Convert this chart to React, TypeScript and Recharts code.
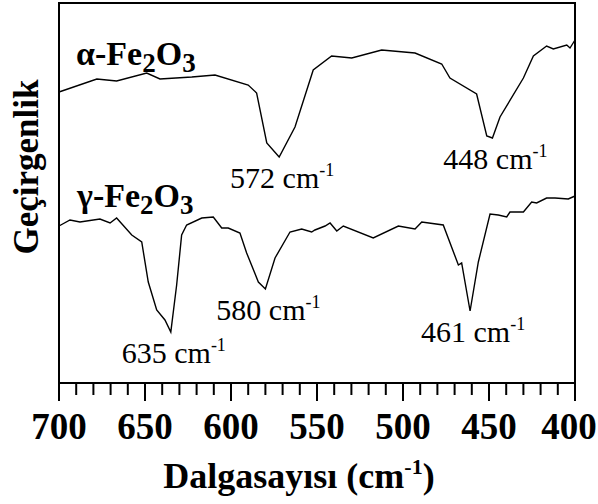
import React from 'react';
import { LineChart, Line, XAxis, YAxis, ReferenceArea, ReferenceDot } from 'recharts';

const FONT = 'Liberation Serif';
const INK = '#000';
const WIDTH = 598;
const HEIGHT = 504;

// wavenumber (cm-1) and transmittance (arbitrary units, curves offset)
const ALPHA_WN = [700, 678, 666.5, 649, 641.3, 622.8, 609.3, 590, 585.1, 579.2, 572, 562.8, 552.2, 541.5, 529.8, 512.4, 493, 477.5, 472.7, 457.2, 451.3, 448, 443.6, 430, 424.2, 416.5, 412.6, 404.8, 402.9, 400];
const ALPHA_T = [291, 304, 302, 310, 304, 306, 308, 298, 290, 240, 226, 256, 313, 327, 325, 333, 330, 319, 305, 289, 247, 245, 266, 305, 327, 337, 334, 338, 335, 343];

const GAMMA_WN = [700, 693.6, 687.8, 676.2, 670.3, 666.5, 657.7, 651.9, 648.1, 643.2, 638.4, 635, 631.6, 628.7, 625.8, 617, 610.3, 605.4, 601.6, 594.8, 590.9, 584.1, 580, 574.4, 565.7, 558.9, 553.1, 551.2, 545.3, 542.4, 538.5, 534.7, 517.3, 502.7, 493, 489.1, 476.6, 467.8, 465.9, 461, 456.2, 449.4, 444.6, 439.7, 437.8, 430, 425.2, 422.3, 416.5, 411.6, 403.9, 400];
const GAMMA_T = [157, 163, 161, 164, 160, 165, 148, 141, 101, 73, 63, 51, 98, 148, 158, 165, 166, 155, 155, 150, 130, 101, 94, 125, 151, 154, 151, 153, 157, 160, 152, 157, 145, 157, 154, 161, 158, 118, 120, 72, 121, 169, 168, 166, 171, 171, 181, 180, 185, 185, 184, 187];

const ALPHA_PEAKS = [572, 448];
const GAMMA_PEAKS = [635, 580, 461];

const TICKS = [700, 690, 680, 670, 660, 650, 640, 630, 620, 610, 600, 590, 580, 570, 560, 550, 540, 530, 520, 510, 500, 490, 480, 470, 460, 450, 440, 430, 420, 410, 400];
const MAJOR_TICKS = [700, 650, 600, 550, 500, 450, 400];

const alphaData = ALPHA_WN.map((w, i) => ({ w, t: ALPHA_T[i] }));
const gammaData = GAMMA_WN.map((w, i) => ({ w, t: GAMMA_T[i] }));

const valueAt = (wn: number[], t: number[], w: number) => t[wn.indexOf(w)];

const serif = { fontFamily: FONT };
const serifBold = { fontFamily: FONT, fontWeight: 700 };

const AxisTick = (props: any) => {
  const { x, y, payload } = props;
  const major = MAJOR_TICKS.includes(payload.value);
  const tx = Math.min(x, WIDTH - 29);
  return (
    <g>
      <line x1={x} x2={x} y1={y} y2={y + (major ? 18 : 12)} stroke={INK} strokeWidth={2} />
      {major && (
        <text x={tx} y={y + 56} textAnchor="middle" style={serifBold} fontSize={37} fill={INK}>
          {payload.value}
        </text>
      )}
    </g>
  );
};

const peakLabel = (w: number) => (props: any) => {
  const { x, y } = props.viewBox;
  return (
    <text x={x + 3} y={y + 31} textAnchor="middle" style={serif} fontSize={30} fill={INK}>
      {w} cm<tspan dy={-12} fontSize={18}>-1</tspan>
    </text>
  );
};

const seriesTitle = (greek: string, dx: number, dy: number) => (props: any) => {
  const { x, y } = props.viewBox;
  return (
    <text x={x + dx} y={y + dy} style={serifBold} fontSize={34} fill={INK}>
      {greek}-Fe<tspan dy={7} fontSize={27}>2</tspan>
      <tspan dy={-7}>O</tspan>
      <tspan dy={7} fontSize={27}>3</tspan>
    </text>
  );
};

export default function App() {
  return (
    <div style={{ position: 'absolute', left: 0, top: 0, background: '#fff' }}>
      <LineChart width={WIDTH} height={HEIGHT} margin={{ top: 3, right: 23, bottom: 0, left: 0 }}>
        <XAxis
          type="number"
          dataKey="w"
          domain={[400, 700]}
          reversed
          ticks={TICKS}
          interval={0}
          tick={<AxisTick />}
          tickLine={false}
          tickSize={0}
          tickMargin={0}
          axisLine={{ stroke: INK, strokeWidth: 2 }}
          height={121}
          label={{
            content: () => (
              <text x={299} y={488} textAnchor="middle" style={serifBold} fontSize={36} fill={INK}>
                Dalgasayısı (cm<tspan dy={-14} fontSize={22}>-1</tspan>
                <tspan dy={14}>)</tspan>
              </text>
            ),
          }}
        />
        <YAxis
          type="number"
          domain={[0, 380]}
          width={59}
          tick={false}
          tickLine={false}
          axisLine={false}
          label={{
            content: () => (
              <text
                x={38}
                y={167}
                transform="rotate(-90, 38, 167)"
                textAnchor="middle"
                style={serifBold}
                fontSize={35}
                fill={INK}
              >
                Geçirgenlik
              </text>
            ),
          }}
        />
        <ReferenceArea x1={700} x2={400} y1={0} y2={380} fill="none" stroke={INK} strokeWidth={2} />
        <Line data={alphaData} dataKey="t" type="linear" stroke={INK} strokeWidth={1.4} dot={false} isAnimationActive={false} />
        <Line data={gammaData} dataKey="t" type="linear" stroke={INK} strokeWidth={1.4} dot={false} isAnimationActive={false} />
        <ReferenceDot x={700} y={ALPHA_T[0]} r={0} fill="none" stroke="none" label={{ content: seriesTitle('α', 17, -27) }} />
        <ReferenceDot x={700} y={GAMMA_T[0]} r={0} fill="none" stroke="none" label={{ content: seriesTitle('γ', 18, -19) }} />
        {ALPHA_PEAKS.map((w) => (
          <ReferenceDot key={`a${w}`} x={w} y={valueAt(ALPHA_WN, ALPHA_T, w)} r={0} fill="none" stroke="none" label={{ content: peakLabel(w) }} />
        ))}
        {GAMMA_PEAKS.map((w) => (
          <ReferenceDot key={`g${w}`} x={w} y={valueAt(GAMMA_WN, GAMMA_T, w)} r={0} fill="none" stroke="none" label={{ content: peakLabel(w) }} />
        ))}
      </LineChart>
    </div>
  );
}
